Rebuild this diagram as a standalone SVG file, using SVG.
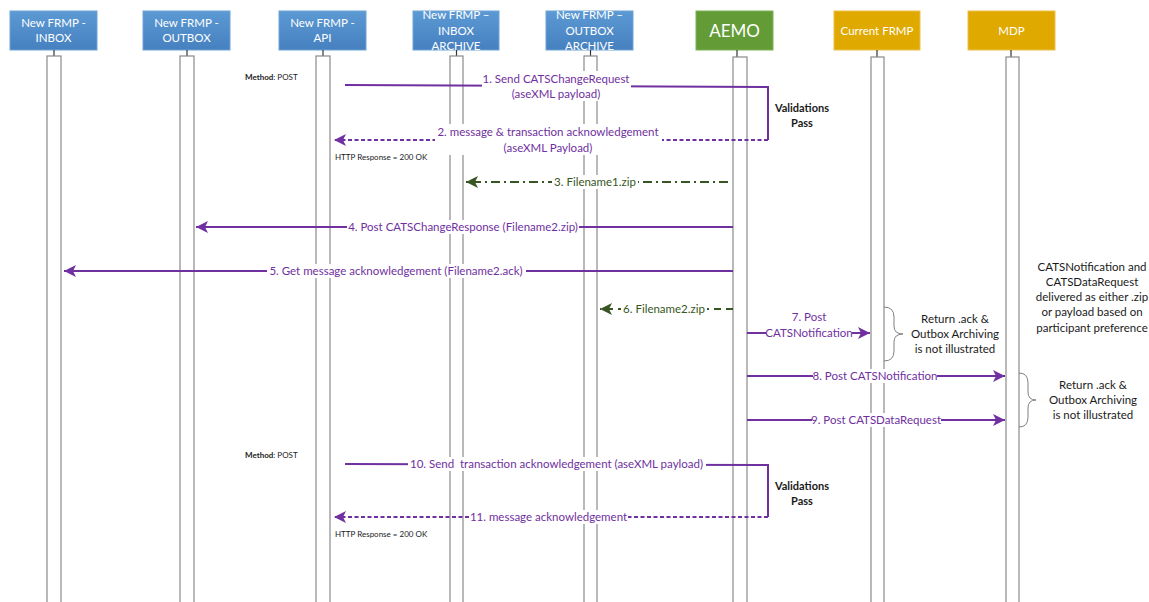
<svg xmlns="http://www.w3.org/2000/svg" width="1149" height="602" viewBox="0 0 1149 602">
  <defs>
    <linearGradient id="gBlue" x1="0" y1="0" x2="0" y2="1">
      <stop offset="0" stop-color="#5c9ad4"/>
      <stop offset="1" stop-color="#4680bf"/>
    </linearGradient>
    <marker id="arrP" markerUnits="userSpaceOnUse" markerWidth="14" markerHeight="12" refX="12" refY="6" orient="auto">
      <path d="M0,0 L12,6 L0,12 L3,6 Z" fill="#7030a0"/>
    </marker>
    <marker id="arrG" markerUnits="userSpaceOnUse" markerWidth="14" markerHeight="12" refX="12" refY="6" orient="auto">
      <path d="M0,0 L12,6 L0,12 L3,6 Z" fill="#375623"/>
    </marker>
  </defs>
  <style>
    .bx { stroke-width: 1; }
    .blue { fill: url(#gBlue); stroke: #6fa3d6; }
    .green { fill: #639c37; stroke: #7cb356; }
    .gold { fill: #dfa900; stroke: #ecc04a; }
    .bt { font-family: Lato, "Liberation Sans", sans-serif; font-size: 11.5px; fill: #ffffff; text-anchor: middle; }
    .life { fill: #ffffff; stroke: #8a8a8a; stroke-width: 1.2; }
    .stub { stroke: #333333; stroke-width: 1.2; }
    .mp { stroke: #7030a0; stroke-width: 2; fill: none; }
    .md { stroke: #7030a0; stroke-width: 2; fill: none; stroke-dasharray: 4 2.5; }
    .gdd { stroke: #375623; stroke-width: 2; fill: none; stroke-dasharray: 9 4 2 4; }
    .gd { stroke: #375623; stroke-width: 2; fill: none; stroke-dasharray: 7 5; }
    .lbl { font-family: Lato, "Liberation Sans", sans-serif; font-size: 11.5px; fill: #7030a0; text-anchor: middle; }
    .lblg { font-family: Lato, "Liberation Sans", sans-serif; font-size: 11.5px; fill: #375623; text-anchor: middle; }
    .bg { fill: #ffffff; }
    .note { font-family: Lato, "Liberation Sans", sans-serif; font-size: 11.5px; fill: #1a1a1a; text-anchor: middle; }
    .bold { font-family: Lato, "Liberation Sans", sans-serif; font-size: 11px; font-weight: bold; fill: #1a1a1a; text-anchor: middle; }
    .small { font-family: Lato, "Liberation Sans", sans-serif; font-size: 8px; fill: #1a1a1a; }
    .brace { stroke: #808080; stroke-width: 1; fill: none; }
  </style>
  <rect width="1149" height="602" fill="#ffffff"/>

  <!-- nodes -->
  <g id="inbox">
    <rect class="bx blue" x="10" y="11" width="87" height="39"/>
    <text class="bt" x="53.5" y="27">New FRMP -</text>
    <text class="bt" x="53.5" y="42">INBOX</text>
    <line class="stub" x1="54" y1="50" x2="54" y2="56"/>
    <rect class="life" x="47" y="56" width="14" height="560"/>
  </g>
  <g id="outbox">
    <rect class="bx blue" x="143" y="11" width="87" height="39"/>
    <text class="bt" x="186.5" y="27">New FRMP -</text>
    <text class="bt" x="186.5" y="42">OUTBOX</text>
    <line class="stub" x1="187" y1="50" x2="187" y2="56"/>
    <rect class="life" x="180" y="56" width="14" height="560"/>
  </g>
  <g id="api">
    <rect class="bx blue" x="279" y="11" width="87" height="39"/>
    <text class="bt" x="322.5" y="27">New FRMP -</text>
    <text class="bt" x="322.5" y="42">API</text>
    <line class="stub" x1="323" y1="50" x2="323" y2="56"/>
    <rect class="life" x="316" y="56" width="14" height="560"/>
  </g>
  <g id="inbox-archive">
    <rect class="bx blue" x="413" y="11" width="86" height="39"/>
    <text class="bt" x="456" y="19">New FRMP –</text>
    <text class="bt" x="456" y="35">INBOX</text>
    <text class="bt" x="456" y="49.5">ARCHIVE</text>
    <line class="stub" x1="456.5" y1="50" x2="456.5" y2="56"/>
    <rect class="life" x="450" y="56" width="13" height="560"/>
  </g>
  <g id="outbox-archive">
    <rect class="bx blue" x="546" y="11" width="87" height="39"/>
    <text class="bt" x="589.5" y="19">New FRMP –</text>
    <text class="bt" x="589.5" y="35">OUTBOX</text>
    <text class="bt" x="589.5" y="49.5">ARCHIVE</text>
    <line class="stub" x1="590.5" y1="50" x2="590.5" y2="56"/>
    <rect class="life" x="584" y="56" width="13" height="560"/>
  </g>
  <g id="aemo">
    <rect class="bx green" x="696" y="11" width="77" height="39"/>
    <text class="bt" x="734.5" y="37" style="font-size:17px">AEMO</text>
    <line class="stub" x1="737" y1="50" x2="737" y2="57"/>
    <rect class="life" x="733" y="57" width="14" height="560"/>
  </g>
  <g id="current-frmp">
    <rect class="bx gold" x="834" y="11" width="86" height="39"/>
    <text class="bt" x="877" y="35">Current FRMP</text>
    <line class="stub" x1="877" y1="50" x2="877" y2="57"/>
    <rect class="life" x="871" y="57" width="13" height="560"/>
  </g>
  <g id="mdp">
    <rect class="bx gold" x="968" y="11" width="87" height="39"/>
    <text class="bt" x="1011.5" y="35">MDP</text>
    <line class="stub" x1="1011" y1="50" x2="1011" y2="57"/>
    <rect class="life" x="1006" y="57" width="13" height="560"/>
  </g>

  <!-- connectors -->
  <g id="connectors">
    <path class="mp" d="M345,85 L768,87 L768,140"/>
    <path class="md" d="M768,140 L334,140" marker-end="url(#arrP)"/>
    <path class="gdd" d="M728,182 L466,182" marker-end="url(#arrG)"/>
    <path class="mp" d="M733,227 L196,227" marker-end="url(#arrP)"/>
    <path class="mp" d="M733,271 L64,271" marker-end="url(#arrP)"/>
    <path class="gd" d="M733,309 L600,309" marker-end="url(#arrG)"/>
    <path class="mp" d="M747,333 L870,333" marker-end="url(#arrP)"/>
    <path class="mp" d="M747,376 L1005,376" marker-end="url(#arrP)"/>
    <path class="mp" d="M747,420 L1005,420" marker-end="url(#arrP)"/>
    <path class="mp" d="M345,464 L768,465 L768,517"/>
    <path class="md" d="M768,517 L334,517" marker-end="url(#arrP)"/>

    <rect class="bg" x="482" y="71" width="149" height="30"/>
    <text class="lbl" x="556" y="83">1. Send CATSChangeRequest</text>
    <text class="lbl" x="556" y="98">(aseXML payload)</text>

    <rect class="bg" x="435" y="124" width="227" height="31"/>
    <text class="lbl" x="548" y="136">2. message &amp; transaction acknowledgement</text>
    <text class="lbl" x="548" y="152">(aseXML Payload)</text>

    <rect class="bg" x="552" y="175" width="86" height="14"/>
    <text class="lblg" x="595" y="186">3. Filename1.zip</text>

    <rect class="bg" x="347" y="220" width="232" height="14"/>
    <text class="lbl" x="463" y="231">4. Post CATSChangeResponse (Filename2.zip)</text>

    <rect class="bg" x="267" y="264" width="259" height="14"/>
    <text class="lbl" x="396" y="275">5. Get message acknowledgement (Filename2.ack)</text>

    <rect class="bg" x="621" y="302" width="86" height="14"/>
    <text class="lblg" x="664" y="313">6. Filename2.zip</text>

    <rect class="bg" x="766" y="326" width="86" height="14"/>
    <text class="lbl" x="809" y="321">7. Post</text>
    <text class="lbl" x="809" y="337">CATSNotification</text>

    <rect class="bg" x="813" y="369" width="124" height="14"/>
    <text class="lbl" x="875" y="380">8. Post CATSNotification</text>

    <rect class="bg" x="812" y="413" width="129" height="14"/>
    <text class="lbl" x="876" y="424">9. Post CATSDataRequest</text>

    <rect class="bg" x="408" y="457" width="298" height="14"/>
    <text class="lbl" x="556.5" y="468" xml:space="preserve">10. Send  transaction acknowledgement (aseXML payload)</text>

    <rect class="bg" x="469" y="510" width="159" height="14"/>
    <text class="lbl" x="548.5" y="521">11. message acknowledgement</text>
  </g>

  <!-- annotations -->
  <g id="annotations">
    <text class="small" x="245" y="80"><tspan font-weight="bold">Method</tspan>: POST</text>
    <text class="small" x="335" y="160">HTTP Response = 200 OK</text>
    <text class="small" x="245" y="458"><tspan font-weight="bold">Method</tspan>: POST</text>
    <text class="small" x="335" y="537">HTTP Response = 200 OK</text>

    <text class="bold" x="802" y="112">Validations</text>
    <text class="bold" x="802" y="127">Pass</text>
    <text class="bold" x="802" y="490">Validations</text>
    <text class="bold" x="802" y="505">Pass</text>

    <path class="brace" d="M884,307 Q894,307 894,317 L894,326 Q894,334 903,334 Q894,334 894,342 L894,351 Q894,361 884,361"/>
    <text class="note" x="955" y="323">Return .ack &amp;</text>
    <text class="note" x="955" y="338">Outbox Archiving</text>
    <text class="note" x="955" y="353">is not illustrated</text>

    <path class="brace" d="M1019,373 Q1028,373 1028,383 L1028,392 Q1028,400 1036,400 Q1028,400 1028,408 L1028,417 Q1028,427 1019,427"/>
    <text class="note" x="1093" y="389">Return .ack &amp;</text>
    <text class="note" x="1093" y="404">Outbox Archiving</text>
    <text class="note" x="1093" y="419">is not illustrated</text>

    <text class="note" x="1092" y="271">CATSNotification and</text>
    <text class="note" x="1092" y="286">CATSDataRequest</text>
    <text class="note" x="1092" y="301">delivered as either .zip</text>
    <text class="note" x="1092" y="316">or payload based on</text>
    <text class="note" x="1092" y="332">participant preference</text>
  </g>
</svg>
